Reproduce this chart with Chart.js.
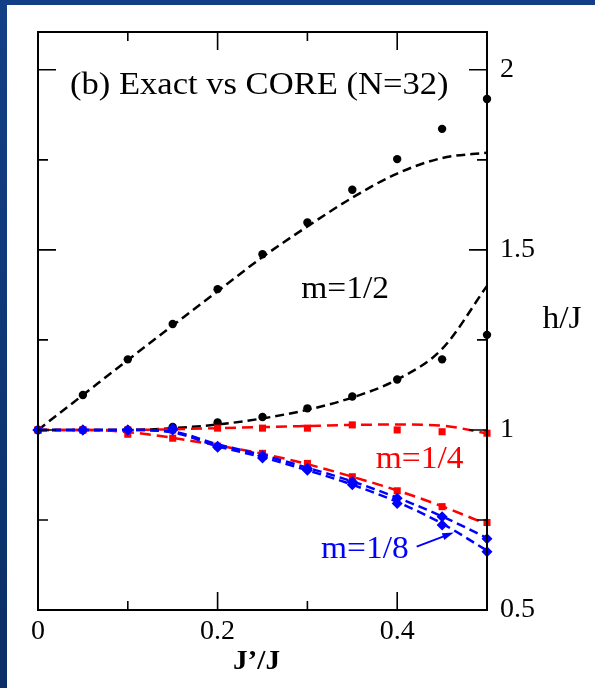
<!DOCTYPE html>
<html>
<head>
<meta charset="utf-8">
<script src="https://cdn.jsdelivr.net/npm/chart.js@4.4.0/dist/chart.umd.min.js"></script>
<style>
  html, body { margin: 0; padding: 0; background: #fff; }
  #grafico { display: block; }
</style>
</head>
<body>
<canvas id="grafico" width="595" height="688"></canvas>
<script>
// Valores de J'/J
const xs = [0, 0.05, 0.1, 0.15, 0.2, 0.25, 0.3, 0.35, 0.4, 0.45, 0.5];

// Exato (símbolos)
const exatoM12Sup = [1, 1.097, 1.196, 1.294, 1.391, 1.488, 1.576, 1.667, 1.752, 1.836, 1.919];
const exatoM12Inf = [1, 1.0, 1.0, 1.008, 1.021, 1.036, 1.06, 1.093, 1.14, 1.196, 1.264];
const exatoM14Sup = [1, 1.0, 1.0, 1.0, 1.005, 1.005, 1.005, 1.014, 1.0, 0.995, 0.991];
const exatoM14Inf = [1, 1.0, 0.988, 0.977, 0.955, 0.935, 0.907, 0.87, 0.831, 0.787, 0.743];
const exatoM18Sup = [1, 1.0, 1.0, 1.005, 0.955, 0.928, 0.893, 0.856, 0.81, 0.759, 0.698];
const exatoM18Inf = [1, 1.0, 1.0, 1.0, 0.952, 0.922, 0.888, 0.848, 0.796, 0.736, 0.662];

// CORE (linhas tracejadas)
const coreM12Sup = [1, 1.097, 1.194, 1.29, 1.385, 1.48, 1.565, 1.645, 1.712, 1.755, 1.77];
const coreM12Inf = [1, 1.0, 1.0, 1.005, 1.015, 1.032, 1.056, 1.09, 1.14, 1.225, 1.40];
const coreM14Sup = [1, 1.0, 1.0, 1.002, 1.005, 1.008, 1.011, 1.014, 1.015, 1.012, 0.99];
const coreM14Inf = [1, 1.0, 0.994, 0.978, 0.957, 0.934, 0.905, 0.87, 0.832, 0.788, 0.738];
const coreM18Sup = [1, 1.0, 1.0, 0.995, 0.96, 0.93, 0.895, 0.857, 0.812, 0.76, 0.70];
const coreM18Inf = [1, 1.0, 1.0, 0.993, 0.955, 0.924, 0.888, 0.848, 0.8, 0.74, 0.665];

// Marcas dos eixos
const xTicksLabel = [0, 0.2, 0.4];
const xTicksMaior = [0.2, 0.4];
const xTicksMenor = [0.1, 0.3];
const yTicksMaior = [1, 1.5, 2];
const yTicksMenor = [0.75, 1.25, 1.75];

const PRETO = '#000000';
const VERMELHO = '#ff0000';
const AZUL = '#0000ff';
const FONTE = '"Liberation Serif", "Times New Roman", serif';

function pontos(valores) {
  return xs.map((x, i) => ({ x: x, y: valores[i] }));
}

function serieExata(valores, cor, estilo, raio) {
  return {
    data: pontos(valores),
    showLine: false,
    pointStyle: estilo,
    pointRadius: raio,
    backgroundColor: cor,
    borderColor: cor,
    pointBorderWidth: 0,
    clip: false
  };
}

function serieCore(valores, cor, tracos) {
  return {
    data: pontos(valores),
    borderColor: cor,
    borderWidth: 2.5,
    borderDash: tracos,
    pointRadius: 0,
    fill: false,
    cubicInterpolationMode: 'monotone',
    clip: false
  };
}

// Fundo azul nas bordas, moldura, marcas internas e textos
const decoracao = {
  id: 'decoracao',
  beforeDraw(chart) {
    const ctx = chart.ctx;
    ctx.save();
    ctx.fillStyle = '#ffffff';
    ctx.fillRect(0, 0, chart.width, chart.height);
    const grad = ctx.createLinearGradient(0, 0, 0, chart.height);
    grad.addColorStop(0, '#123f86');
    grad.addColorStop(1, '#0b2f66');
    ctx.fillStyle = grad;
    ctx.fillRect(0, 0, 7, chart.height);
    ctx.fillRect(0, 0, chart.width, 5);
    ctx.restore();
  },
  afterDraw(chart) {
    const ctx = chart.ctx;
    const a = chart.chartArea;
    const sx = chart.scales.x;
    const sy = chart.scales.y;
    ctx.save();
    ctx.strokeStyle = PRETO;
    ctx.lineWidth = 2;
    ctx.strokeRect(a.left, a.top, a.right - a.left, a.bottom - a.top);

    ctx.lineWidth = 1.6;
    ctx.beginPath();
    const marcaX = (v, tam) => {
      const px = sx.getPixelForValue(v);
      ctx.moveTo(px, a.bottom); ctx.lineTo(px, a.bottom - tam);
      ctx.moveTo(px, a.top); ctx.lineTo(px, a.top + tam);
    };
    const marcaY = (v, tam) => {
      const py = sy.getPixelForValue(v);
      ctx.moveTo(a.left, py); ctx.lineTo(a.left + tam, py);
      ctx.moveTo(a.right, py); ctx.lineTo(a.right - tam, py);
    };
    xTicksMaior.forEach(v => marcaX(v, 18));
    xTicksMenor.forEach(v => marcaX(v, 9));
    yTicksMaior.forEach(v => marcaY(v, 18));
    yTicksMenor.forEach(v => marcaY(v, 10));
    ctx.stroke();

    // textos
    const texto = (t, x, y, cor, tamanho, peso, alinhar) => {
      ctx.save();
      ctx.fillStyle = cor;
      ctx.font = (peso || 'normal') + ' ' + tamanho + 'px ' + FONTE;
      ctx.textAlign = alinhar || 'center';
      ctx.textBaseline = 'middle';
      ctx.translate(x, y);
      ctx.scale(1.08, 1);
      ctx.fillText(t, 0, 0);
      ctx.restore();
    };
    texto('(b) Exact vs CORE (N=32)', a.left + 32, 86, PRETO, 32, 'normal', 'left');
    texto('m=1/2', sx.getPixelForValue(0.342), sy.getPixelForValue(1.389), PRETO, 31);
    texto('m=1/4', sx.getPixelForValue(0.425), sy.getPixelForValue(0.917), VERMELHO, 31);
    texto('m=1/8', sx.getPixelForValue(0.364), sy.getPixelForValue(0.667), AZUL, 31);
    texto('h/J', 562, 320, PRETO, 31);
    texto('J\u2019/J', (a.left + a.right) / 2 - 6, 662, PRETO, 27, 'bold');

    // seta para m=1/8
    const x0 = sx.getPixelForValue(0.4217), y0 = sy.getPixelForValue(0.676);
    const x1 = sx.getPixelForValue(0.463), y1 = sy.getPixelForValue(0.715);
    const ang = Math.atan2(y1 - y0, x1 - x0);
    ctx.strokeStyle = AZUL;
    ctx.fillStyle = AZUL;
    ctx.lineWidth = 2;
    ctx.beginPath();
    ctx.moveTo(x0, y0);
    ctx.lineTo(x1 - 8 * Math.cos(ang), y1 - 8 * Math.sin(ang));
    ctx.stroke();
    ctx.beginPath();
    ctx.moveTo(x1, y1);
    ctx.lineTo(x1 - 12 * Math.cos(ang - 0.3), y1 - 12 * Math.sin(ang - 0.3));
    ctx.lineTo(x1 - 12 * Math.cos(ang + 0.3), y1 - 12 * Math.sin(ang + 0.3));
    ctx.closePath();
    ctx.fill();
    ctx.restore();
  }
};

const ctx = document.getElementById('grafico').getContext('2d');

new Chart(ctx, {
  type: 'line',
  data: {
    datasets: [
      serieExata(exatoM18Sup, AZUL, 'rectRot', 5.5),
      serieExata(exatoM18Inf, AZUL, 'rectRot', 5.5),
      serieExata(exatoM14Sup, VERMELHO, 'rect', 5),
      serieExata(exatoM14Inf, VERMELHO, 'rect', 5),
      serieExata(exatoM12Sup, PRETO, 'circle', 4.2),
      serieExata(exatoM12Inf, PRETO, 'circle', 4.2),
      serieCore(coreM18Sup, AZUL, [9, 5]),
      serieCore(coreM18Inf, AZUL, [9, 5]),
      serieCore(coreM14Sup, VERMELHO, [11, 6]),
      serieCore(coreM14Inf, VERMELHO, [11, 6]),
      serieCore(coreM12Sup, PRETO, [9, 5]),
      serieCore(coreM12Inf, PRETO, [9, 5])
    ]
  },
  options: {
    responsive: false,
    animation: false,
    layout: { padding: { left: 38, top: 32, right: 0, bottom: 0 } },
    plugins: {
      legend: { display: false },
      tooltip: { enabled: false }
    },
    scales: {
      x: {
        type: 'linear',
        position: 'bottom',
        min: 0,
        max: 0.5,
        grid: { display: false, drawTicks: false },
        border: { display: false },
        ticks: {
          stepSize: 0.1,
          padding: 5,
          color: PRETO,
          maxRotation: 0,
          font: { family: FONTE, size: 28 },
          callback: v => {
            const r = Math.round(v * 10) / 10;
            return xTicksLabel.includes(r) ? String(r) : '';
          }
        },
        afterFit: s => { s.height = 78; }
      },
      y: {
        type: 'linear',
        position: 'right',
        min: 0.5,
        max: 2.105,
        grid: { display: false, drawTicks: false },
        border: { display: false },
        ticks: {
          stepSize: 0.5,
          includeBounds: false,
          padding: 13,
          color: PRETO,
          font: { family: FONTE, size: 28 },
          callback: v => String(Math.round(v * 10) / 10)
        },
        afterFit: s => { s.width = 108; }
      }
    }
  },
  plugins: [decoracao]
});
</script>
</body>
</html>
